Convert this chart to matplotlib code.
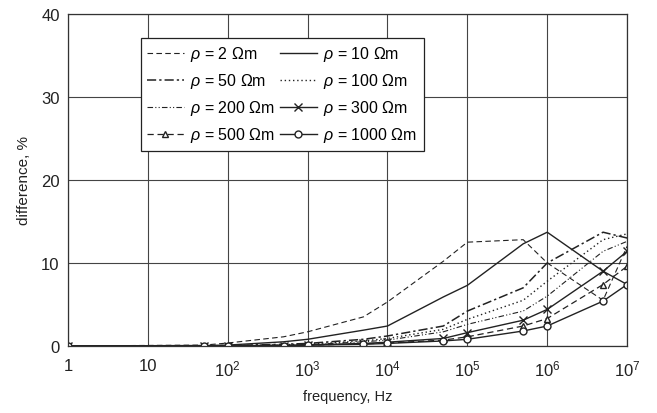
import matplotlib
matplotlib.use('Agg')
import matplotlib.pyplot as plt
from matplotlib.ticker import FixedLocator, FixedFormatter, NullLocator

# --- data ---
freq = [1, 50, 100, 500, 1e3, 5e3, 1e4, 5e4, 1e5, 5e5, 1e6, 5e6, 1e7]
rho_2 = [0, 0.1, 0.35, 1.1, 1.7, 3.5, 5.3, 10.2, 12.5, 12.8, 10.0, 5.5, 12.0]
rho_10 = [0, 0.05, 0.1, 0.5, 0.8, 1.9, 2.4, 5.9, 7.3, 12.3, 13.7, 9.0, 7.4]
rho_50 = [0, 0, 0.05, 0.2, 0.3, 0.8, 1.2, 2.4, 4.2, 7.0, 10.0, 13.7, 13.0]
rho_100 = [0, 0, 0.03, 0.15, 0.2, 0.6, 0.9, 2.0, 3.2, 5.5, 7.8, 12.8, 13.5]
rho_200 = [0, 0, 0.02, 0.1, 0.15, 0.5, 0.7, 1.7, 2.6, 4.2, 6.0, 11.4, 12.6]
rho_300 = [0, 0, 0, 0.05, 0.1, 0.3, 0.45, 0.9, 1.6, 3.1, 4.4, 9.0, 11.4]
rho_500 = [0, 0, 0, 0.05, 0.1, 0.25, 0.35, 0.7, 1.1, 2.4, 3.3, 7.4, 9.6]
rho_1000 = [0, 0, 0, 0.05, 0.1, 0.2, 0.3, 0.6, 0.8, 1.8, 2.4, 5.4, 7.4]

xticks = [1, 10, 1e2, 1e3, 1e4, 1e5, 1e6, 1e7]
xticklabels = ['1', '10', '$10^2$', '$10^3$', '$10^4$', '$10^5$', '$10^6$', '$10^7$']
yticks = [0, 10, 20, 30, 40]

plt.rcParams['font.family'] = ['Liberation Sans', 'DejaVu Sans']
plt.rcParams['mathtext.fontset'] = 'custom'
plt.rcParams['mathtext.rm'] = 'Liberation Sans'
plt.rcParams['mathtext.it'] = 'Liberation Sans:italic'

fig = plt.figure(figsize=(6.57, 4.14), dpi=100)
ax = fig.add_axes([0.1035, 0.162, 0.851, 0.802])

c = '#222222'
series = [
    (rho_2, '2', dict(ls=(0, (5, 3)), lw=0.8)),
    (rho_50, '50', dict(ls=(0, (6, 2, 1.5, 2)), lw=1.1)),
    (rho_200, '200', dict(ls=(0, (5, 2, 1, 2, 1, 2)), lw=0.8)),
    (rho_500, '500', dict(ls=(0, (5, 3)), lw=0.9, marker='^', mfc='white', ms=5)),
    (rho_10, '10', dict(ls='-', lw=1.0)),
    (rho_100, '100', dict(ls=(0, (1, 2)), lw=1.0)),
    (rho_300, '300', dict(ls='-', lw=1.0, marker='x', ms=6)),
    (rho_1000, '1000', dict(ls='-', lw=1.0, marker='o', mfc='white', ms=5)),
]
for vals, name, style in series:
    ax.plot(freq, vals, color=c, mec=c, label=r'$\rho$ = ' + name + ' Ωm', **style)

ax.set_xscale('log')
ax.set_xlim(1, 1e7)
ax.set_ylim(0, 40)
ax.xaxis.set_major_locator(FixedLocator(xticks))
ax.xaxis.set_major_formatter(FixedFormatter(xticklabels))
ax.xaxis.set_minor_locator(NullLocator())
ax.set_yticks(yticks)
ax.tick_params(axis='y', labelsize=12, length=0, pad=6, colors='#222222')
ax.tick_params(axis='x', labelsize=12, length=0, pad=9, colors='#222222')
ax.grid(True, color='#444444', lw=0.8, ls='-')
for s in ax.spines.values():
    s.set_color('#333333')
    s.set_linewidth(0.9)

ax.set_xlabel('frequency, Hz', fontsize=10.5, color='#222222', labelpad=8)
ax.set_ylabel('difference, %', fontsize=11, color='#222222', labelpad=7)

leg = ax.legend(ncol=2, loc='upper left', bbox_to_anchor=(0.13, 0.928), fontsize=11.5,
                frameon=True, fancybox=False, edgecolor='#222222', framealpha=1,
                handlelength=2.3, columnspacing=0.3, handletextpad=0.4,
                borderpad=0.4, labelspacing=0.5, borderaxespad=0)
leg.get_frame().set_linewidth(0.9)

plt.savefig('out.png', dpi=100)
